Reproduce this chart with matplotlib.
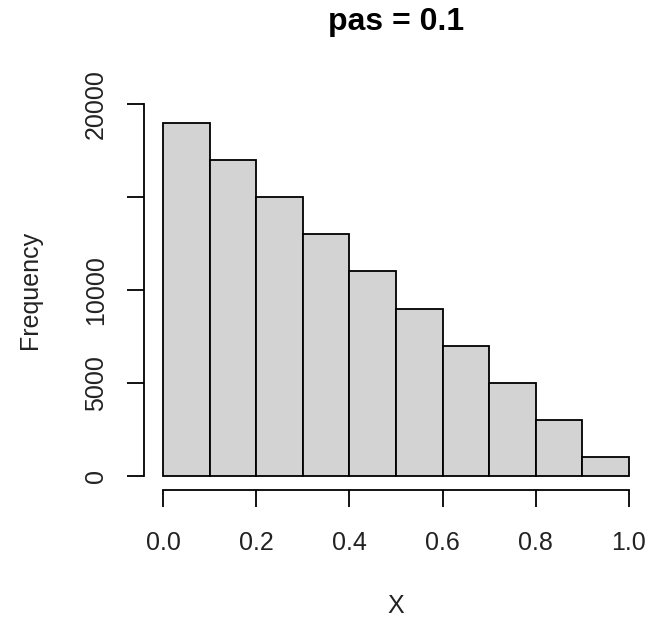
import matplotlib
matplotlib.use("Agg")
import matplotlib.pyplot as plt
import numpy as np

# histogram of X with breaks every 0.1
breaks = [0.0, 0.1, 0.2, 0.3, 0.4, 0.5, 0.6, 0.7, 0.8, 0.9, 1.0]
counts = [19000, 17000, 15000, 13000, 11000, 9000, 7000, 5000, 3000, 1000]
xticks = [0.0, 0.2, 0.4, 0.6, 0.8, 1.0]
yticks = [0, 5000, 10000, 15000, 20000]
# 15000 is left unlabelled (labels would overlap)
ylabels = ["0", "5000", "10000", "", "20000"]

plt.rcParams['font.family'] = ['Liberation Sans', 'DejaVu Sans']

W, H = 651, 625
fig = plt.figure(figsize=(W / 100, H / 100), dpi=100)

# plot region in pixels
x0, x1 = 144.4, 647.6
ylo, yhi = -760, 20300
ppu = 0.0186
ybot = 476 + 760 * ppu
ytop = 476 - yhi * ppu
ax = fig.add_axes([x0 / W, 1 - ybot / H, (x1 - x0) / W, (ybot - ytop) / H])

lefts = np.array(breaks[:-1])
widths = np.diff(breaks)
ax.bar(lefts, counts, width=widths, align='edge', color='#D3D3D3',
       edgecolor='black', linewidth=1.3)

ax.set_xlim(-0.04, 1.04)
ax.set_ylim(ylo, yhi)
ax.patch.set_visible(False)

for s in ['top', 'right']:
    ax.spines[s].set_visible(False)
ax.spines['left'].set_bounds(0, 20000)
ax.spines['bottom'].set_bounds(0, 1)
ax.spines['left'].set_linewidth(1.3)
ax.spines['bottom'].set_linewidth(1.3)

ax.set_xticks(xticks)
ax.set_xticklabels([f"{v:.1f}" for v in xticks])
ax.set_yticks(yticks)
ax.set_yticklabels(ylabels, rotation=90, va='center')
ax.tick_params(direction='out', length=12.2, width=1.3, labelsize=18,
               colors='black', labelcolor='#222222')
ax.tick_params(axis='x', pad=17)
ax.tick_params(axis='y', pad=14)

fig.text(396 / W, 1 - 22 / H, "pas = 0.1", ha='center', va='center',
         fontsize=23, fontweight='bold')
fig.text(396 / W, 1 - 606 / H, "X", ha='center', va='center', fontsize=18,
         color='#222222')
fig.text(30 / W, 1 - 290 / H, "Frequency", ha='center', va='center',
         rotation=90, fontsize=18, color='#222222')

fig.savefig("out.png", dpi=100)
